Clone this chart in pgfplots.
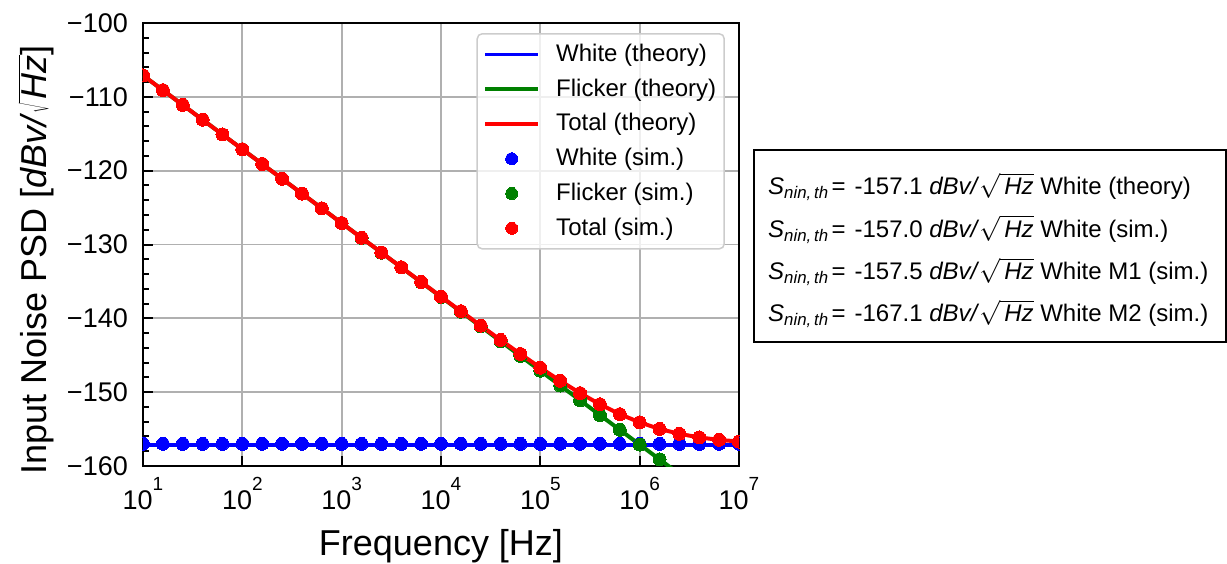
\documentclass[border=0pt]{standalone}
\usepackage{fontspec}
\setmainfont{Liberation Sans}
\usepackage{pgfplots}
\usepackage{pgfplotstable}
\pgfplotsset{compat=1.18}
\definecolor{mblue}{RGB}{0,0,255}
\definecolor{mgreen}{RGB}{0,128,0}
\definecolor{mred}{RGB}{255,0,0}
\definecolor{gridgray}{RGB}{176,176,176}
\definecolor{leggray}{RGB}{204,204,204}
\newcommand\sexp[1]{\raisebox{0.7em}{\fontsize{19}{19}\selectfont #1}}
\newcommand\snin{\textit{S}\textsubscript{\textit{nin,\,th}}\kern3pt=\kern9pt}
\newcommand\unit{\textit{dBv/}$\sqrt{\,\textit{Hz}}$}
\pgfplotsset{
  lineleg/.style={legend image code/.code={\path (0pt,0pt) (53pt,0pt); \draw[##1, line width=3.5pt] (0pt,0pt) -- (53pt,0pt);}},
  markleg/.style={legend image code/.code={\path (0pt,0pt) (53pt,0pt); \draw[##1, opacity=1, mark size=6pt] plot coordinates {(26.5pt,0pt)};}},
}

\pgfplotstableread{
f W F T Ws
10 -157.1 -107.1 -107.10 -157.0
15.85 -157.1 -109.1 -109.10 -157.0
25.12 -157.1 -111.1 -111.10 -157.0
39.81 -157.1 -113.1 -113.10 -157.0
63.10 -157.1 -115.1 -115.10 -157.0
100 -157.1 -117.1 -117.10 -157.0
158.5 -157.1 -119.1 -119.10 -157.0
251.2 -157.1 -121.1 -121.10 -157.0
398.1 -157.1 -123.1 -123.10 -157.0
631.0 -157.1 -125.1 -125.10 -157.0
1000 -157.1 -127.1 -127.10 -157.0
1585 -157.1 -129.1 -129.09 -157.0
2512 -157.1 -131.1 -131.09 -157.0
3981 -157.1 -133.1 -133.08 -157.0
6310 -157.1 -135.1 -135.07 -157.0
1e4 -157.1 -137.1 -137.06 -157.0
1.585e4 -157.1 -139.1 -139.03 -157.0
2.512e4 -157.1 -141.1 -140.99 -157.0
3.981e4 -157.1 -143.1 -142.93 -157.0
6.310e4 -157.1 -145.1 -144.83 -157.0
1e5 -157.1 -147.1 -146.69 -157.0
1.585e5 -157.1 -149.1 -148.46 -157.0
2.512e5 -157.1 -151.1 -150.13 -157.0
3.981e5 -157.1 -153.1 -151.64 -157.0
6.310e5 -157.1 -155.1 -152.98 -157.0
1e6 -157.1 -157.1 -154.09 -157.0
1.585e6 -157.1 -159.1 -154.98 -157.0
2.512e6 -157.1 -161.1 -155.64 -157.0
3.981e6 -157.1 -163.1 -156.13 -157.0
6.310e6 -157.1 -165.1 -156.46 -157.0
1e7 -157.1 -167.1 -156.69 -157.0
}\data

\begin{document}
\begin{tikzpicture}
\path[use as bounding box] (-143pt,-97pt) rectangle (1084pt,466pt);
\begin{axis}[
  at={(0pt,0pt)}, anchor=south west,
  scale only axis, width=596pt, height=443pt,
  xmode=log, xmin=10, xmax=1e7, ymin=-160, ymax=-100,
  clip marker paths=true,
  xtick={1e1,1e2,1e3,1e4,1e5,1e6,1e7},
  xticklabels={10\sexp{1},10\sexp{2},10\sexp{3},10\sexp{4},10\sexp{5},10\sexp{6},10\sexp{7}},
  xminorticks=false,
  ytick={-160,-150,-140,-130,-120,-110,-100},
  yticklabels={−160,−150,−140,−130,−120,−110,−100},
  minor y tick num=4,
  tick pos=left, tick align=inside,
  major tick length=10pt, minor tick length=6pt,
  every tick/.style={black, line width=2pt},
  axis line style={line width=2.5pt},
  grid=major,
  major grid style={line width=1.8pt, gridgray},
  xticklabel style={anchor=base, yshift=-43pt, font=\fontsize{27}{27}\selectfont},
  yticklabel style={anchor=east, inner sep=0pt, xshift=-15pt, font=\fontsize{27}{27}\selectfont},
  xlabel={Frequency [Hz]},
  ylabel={Input Noise PSD [\unit]},
  xlabel style={at={(axis description cs:0.5,-0.203)}, anchor=base, font=\fontsize{36}{36}\selectfont},
  ylabel style={at={(axis description cs:-0.1616,0.465)}, anchor=base, font=\fontsize{36}{36}\selectfont},
  legend cell align=left,
  legend style={
    at={(0.9765,0.9774)}, anchor=north east,
    draw=leggray, line width=1.5pt, rounded corners=5pt,
    fill=white, fill opacity=0.8, text opacity=1, draw opacity=1,
    font=\fontsize{24}{28}\selectfont,
    inner xsep=6pt, inner ysep=8pt,
    nodes={inner sep=2pt, text depth=3.6pt, text height=17.5pt},
    row sep=9.7pt, column sep=14pt,
  },
]
\addplot[mblue, line width=4pt, no marks, lineleg] table[x=f,y=W] {\data};
\addlegendentry{White (theory)}
\addplot[mgreen, line width=4pt, no marks, lineleg] table[x=f,y=F] {\data};
\addlegendentry{Flicker (theory)}
\addplot[mred, line width=4pt, no marks, lineleg] table[x=f,y=T] {\data};
\addlegendentry{Total (theory)}
\addplot[mblue, only marks, mark=*, mark size=6.5pt, mark options={line width=0pt, fill=mblue, draw=mblue}, markleg] table[x=f,y=Ws] {\data};
\addlegendentry{White (sim.)}
\addplot[mgreen, only marks, mark=*, mark size=6.5pt, mark options={line width=0pt, fill=mgreen, draw=mgreen}, markleg] table[x=f,y=F] {\data};
\addlegendentry{Flicker (sim.)}
\addplot[mred, only marks, mark=*, mark size=6.5pt, mark options={line width=0pt, fill=mred, draw=mred}, markleg] table[x=f,y=T] {\data};
\addlegendentry{Total (sim.)}
\end{axis}
\draw[line width=2pt] (611pt,124pt) rectangle (1083pt,316pt);
\begin{scope}[every node/.style={anchor=base west, inner sep=0pt, font=\fontsize{24}{28}\selectfont}]
\node at (625pt,271pt) {\snin-157.1 \unit{} White (theory)};
\node at (625pt,228.5pt) {\snin-157.0 \unit{} White (sim.)};
\node at (625pt,186pt) {\snin-157.5 \unit{} White M1 (sim.)};
\node at (625pt,144pt) {\snin-167.1 \unit{} White M2 (sim.)};
\end{scope}
\end{tikzpicture}
\end{document}
